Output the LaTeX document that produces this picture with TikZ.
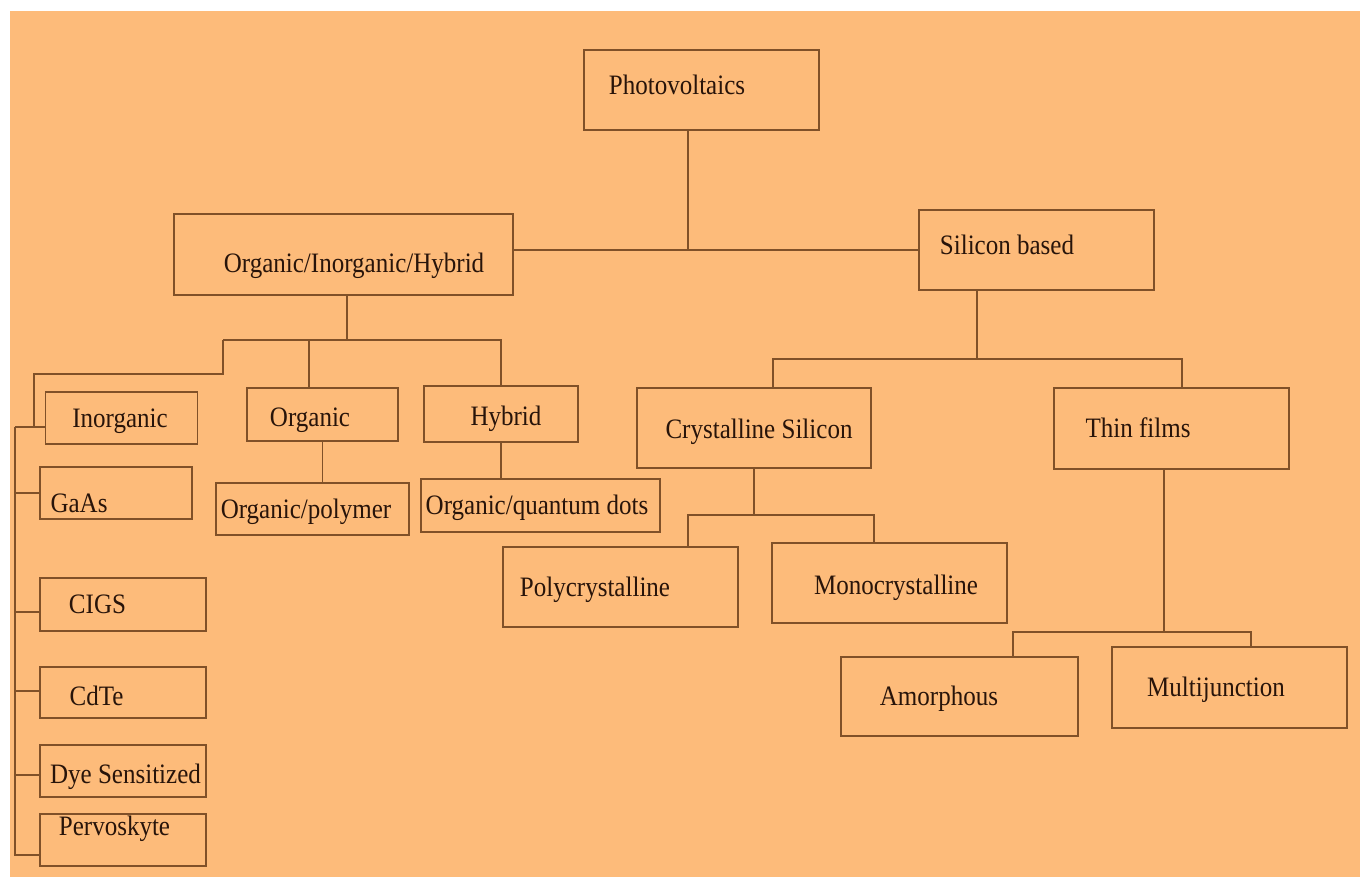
\documentclass[tikz,border=0pt]{standalone}
\usepackage{fontspec}
\setmainfont[FakeStretch=0.89]{Liberation Serif}
\definecolor{sheet}{RGB}{253,187,122}
\definecolor{edge}{RGB}{128,80,40}
\definecolor{ink}{RGB}{40,20,10}
\tikzset{
  box/.style 2 args={draw=edge, line width=0.8pt, minimum width=#1cm, minimum height=#2cm, inner sep=0pt},
  wire/.style={draw=edge, line width=0.8pt},
  every label/.style={text=ink, font=\fontsize{16}{19}\selectfont, inner sep=0pt, text height=10.6pt, text depth=0pt}
}
\begin{document}
\begin{tikzpicture}
        \fill[white] (0,0) rectangle (27.2,-17.54);
        \fill[sheet] (0.20,-0.22) rectangle (27.2,-17.54);

        \node[box={4.70}{1.60}, label={[xshift=-0.49cm, yshift=0.10cm]center:Photovoltaics}] (pv) at (14.03,-1.80) {};
        \node[box={6.78}{1.62}, label={[xshift=0.21cm, yshift=-0.17cm]center:Organic/Inorganic/Hybrid}] (oih) at (6.87,-5.09) {};
        \node[box={4.70}{1.60}, label={[xshift=-0.59cm, yshift=0.09cm]center:Silicon based}] (si) at (20.73,-5.00) {};

        \node[box={3.04}{1.04}, label={[xshift=-0.03cm]center:Inorganic}] (inorg) at (2.43,-8.36) {};
        \node[box={3.02}{1.06}, label={[xshift=-0.25cm, yshift=-0.06cm]center:Organic}] (org) at (6.45,-8.29) {};
        \node[box={3.08}{1.12}, label={[xshift=0.10cm, yshift=-0.04cm]center:Hybrid}] (hyb) at (10.02,-8.28) {};
        \node[box={4.68}{1.60}, label={[xshift=0.10cm, yshift=-0.03cm]center:Crystalline Silicon}] (cs) at (15.08,-8.56) {};
        \node[box={4.70}{1.62}, label={[xshift=-0.67cm]center:Thin films}] (tf) at (23.43,-8.57) {};

        \node[box={3.04}{1.04}, label={[xshift=-0.74cm, yshift=-0.21cm]center:GaAs}] (gaas) at (2.32,-9.86) {};
        \node[box={3.86}{1.04}, label={[xshift=-0.13cm]center:Organic/polymer}] (opoly) at (6.25,-10.18) {};
        \node[box={4.78}{1.06}, label={[xshift=-0.07cm]center:Organic/quantum dots}] (oqd) at (10.81,-10.11) {};
        \node[box={4.70}{1.60}, label={[xshift=-0.51cm]center:Polycrystalline}] (poly) at (12.41,-11.74) {};
        \node[box={4.70}{1.60}, label={[xshift=0.13cm, yshift=-0.05cm]center:Monocrystalline}] (mono) at (17.79,-11.66) {};
        \node[box={4.74}{1.58}, label={[xshift=-0.41cm]center:Amorphous}] (amor) at (19.19,-13.93) {};
        \node[box={4.70}{1.62}, label={[xshift=-0.27cm]center:Multijunction}] (multi) at (24.59,-13.75) {};

        \node[box={3.32}{1.06}, label={[xshift=-0.51cm]center:CIGS}] (cigs) at (2.46,-12.09) {};
        \node[box={3.32}{1.02}, label={[xshift=-0.53cm, yshift=-0.08cm]center:CdTe}] (cdte) at (2.46,-13.85) {};
        \node[box={3.32}{1.04}, label={[xshift=0.05cm, yshift=-0.06cm]center:Dye Sensitized}] (dye) at (2.46,-15.42) {};
        \node[box={3.32}{1.04}, label={[xshift=-0.17cm, yshift=0.28cm]center:Pervoskyte}] (perv) at (2.46,-16.80) {};

        % top level
        \coordinate (pvdrop) at (13.76,-2.60);
        \draw[wire] (pvdrop) -- (pvdrop |- si.west);
        \draw[wire] (oih.east |- si.west) -- (si.west);

        % left branch
        \coordinate (ljoin) at (6.94,-6.80);
        \coordinate (lbar) at (4.46,-6.80);
        \coordinate (orgtap) at (6.18,-6.80);
        \coordinate (step1) at (4.46,-7.48);
        \coordinate (step2) at (0.68,-8.54);
        \coordinate (rail) at (0.30,-8.54);
        \draw[wire] (oih.south -| ljoin) -- (ljoin);
        \draw[wire] (lbar) -- (hyb.north |- lbar) -- (hyb.north);
        \draw[wire] (orgtap) -- (orgtap |- org.north);
        \draw[wire] (lbar) -- (step1) -| (step2) -- (inorg.west |- step2);
        \draw[wire] (rail) -- (step2);
        \draw[wire] (rail) -- ++(0,-8.56);
        \foreach \n/\dy in {gaas/0, cigs/-0.15, cdte/0.03, dye/-0.08, perv/-0.30}
            \draw[wire] ([yshift=\dy cm]\n.west) -- ++(-0.50,0);
        \draw[wire] (org.south) -- (org.south |- opoly.north);
        \draw[wire] (hyb.south) -- (hyb.south |- oqd.north);

        % right branch
        \coordinate (sidrop) at (19.54,-7.18);
        \coordinate (cstap) at (15.46,-7.18);
        \coordinate (tftap) at (23.64,-7.18);
        \draw[wire] (si.south -| sidrop) -- (sidrop);
        \draw[wire] (cs.north -| cstap) |- (tftap) -- (tf.north -| tftap);

        \coordinate (polytap) at (13.76,-10.30);
        \coordinate (monotap) at (17.48,-10.30);
        \draw[wire] (cs.south) -- (cs.south |- polytap);
        \draw[wire] (poly.north -| polytap) |- (monotap) -- (mono.north -| monotap);

        \coordinate (tfdrop) at (23.28,-12.64);
        \coordinate (amortap) at (20.26,-12.64);
        \coordinate (multitap) at (25.02,-12.64);
        \draw[wire] (tf.south -| tfdrop) -- (tfdrop);
        \draw[wire] (amor.north -| amortap) |- (multitap) -- (multi.north -| multitap);
    \end{tikzpicture}
\end{document}
